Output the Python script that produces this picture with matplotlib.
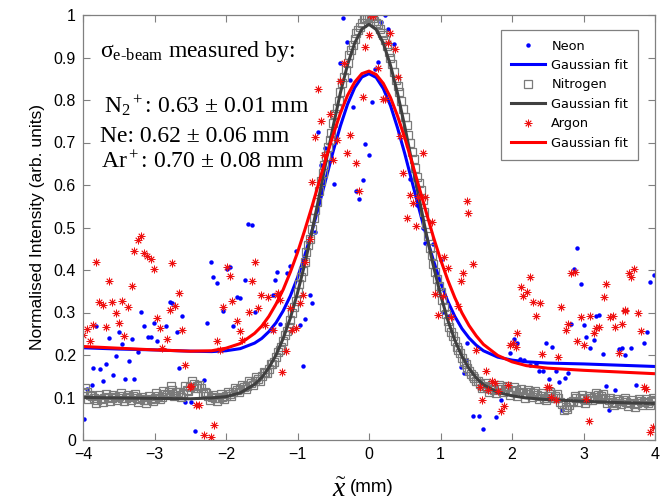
import numpy as np
import matplotlib
matplotlib.use('Agg')
import matplotlib.pyplot as plt

# ---- data ----
# Neon points (x in mm, normalised intensity)
neon_x = [-1.69, -1.64, -2.21, -1.95, -1.99, -2.18, -2.13, -1.73, -1.32, -1.28, -1.85, -1.81, -2.79, -2.76,
          -3.19, -2.61, -3.82, -3.15, -3.01, -2.84, -3.49, -2.69, -2.26, -2.04, -1.90, -1.60, -3.09, -3.05,
          -2.96, -3.63, -3.45, -3.32, -3.23, -3.54, -3.36, -3.68, -3.86, -3.76, -3.58, -3.72, -3.41, -3.28,
          -2.66, -2.31, -3.88, -3.94, -3.99, -2.57, -2.49, -2.43,
          -0.36, 0.22, 0.17, -0.31, 0.26, 0.35, -0.40, 0.12, 0.08, -0.27, 0.04, -0.23, -0.71, -0.62, -0.05, 0.00,
          -0.67, -0.49, -0.09, -0.18, -0.14, 0.57, 0.67, 0.75, -1.02, -0.76, -1.11, -1.15, 0.79, 0.89, 1.00,
          -1.34, -0.83, -0.80, -0.89, -0.97, -1.24, -1.34, -0.93, 1.04, 1.12, 1.28, 1.33, 1.36,
          2.91, 2.87, 2.96, 3.93, 3.98, 3.18, 3.22, 2.83, 3.01, 3.89, 3.04, 3.14, 3.85, 2.48, 2.56, 2.03,
          2.07, 1.97, 1.37, 3.09, 3.27, 3.50, 3.54, 3.66, 3.58, 2.11, 2.17, 2.25, 2.34, 2.38, 2.43, 2.62,
          2.78, 2.52, 2.74, 2.66, 3.31, 3.44, 3.74, 1.85, 2.70, 1.46, 1.54, 1.77, 1.59, 3.36]
neon_y = [0.508, 0.505, 0.420, 0.408, 0.403, 0.383, 0.369, 0.376, 0.376, 0.395, 0.336, 0.335, 0.324, 0.322,
          0.301, 0.292, 0.268, 0.268, 0.275, 0.268, 0.254, 0.254, 0.276, 0.304, 0.268, 0.301, 0.243, 0.242,
          0.234, 0.239, 0.226, 0.238, 0.207, 0.198, 0.185, 0.180, 0.169, 0.168, 0.152, 0.140, 0.143, 0.144,
          0.169, 0.141, 0.129, 0.119, 0.049, 0.089, 0.089, 0.022,
          0.993, 1.000, 0.984, 0.936, 0.966, 0.931, 0.886, 0.890, 0.872, 0.846, 0.796, 0.784, 0.725, 0.688, 0.696, 0.671,
          0.647, 0.602, 0.611, 0.585, 0.567, 0.613, 0.553, 0.500, 0.445, 0.490, 0.409, 0.394, 0.463, 0.461, 0.424,
          0.342, 0.342, 0.322, 0.285, 0.271, 0.273, 0.260, 0.174, 0.302, 0.292, 0.172, 0.158, 0.188,
          0.452, 0.403, 0.368, 0.372, 0.388, 0.292, 0.293, 0.274, 0.271, 0.254, 0.243, 0.235, 0.229, 0.229, 0.220, 0.237,
          0.228, 0.204, 0.228, 0.217, 0.202, 0.215, 0.217, 0.216, 0.199, 0.191, 0.188, 0.177, 0.179, 0.162, 0.162, 0.162,
          0.157, 0.144, 0.146, 0.136, 0.127, 0.118, 0.130, 0.093, 0.071, 0.056, 0.056, 0.053, 0.027, 0.071]

# Argon points
argon_x = [-3.82, -3.23, -3.19, -3.29, -3.15, -3.10, -3.05, -3.01, -3.63, -3.32, -2.75, -2.66, -1.99, -1.94,
           -1.60, -1.64, -1.51, -1.41, -1.29, -3.77, -3.72, -3.59, -3.45, -3.37, -2.71, -2.04, -1.91, -1.55,
           -3.54, -2.79, -1.68, -3.49, -2.96, -2.92, -3.94, -3.86, -3.68, -2.62, -1.85, -1.80, -1.46, -4.00,
           -3.90, -3.42, -2.83, -2.89, -2.13, -2.08, -1.77, -2.57, -2.51, -2.49, -2.42, -2.38, -2.17, -2.31, -2.21,
           0.01, 0.06, 0.29, 0.00, 0.26, 0.36, -0.05, -0.35, 0.13, -0.41, -0.71, 0.40, -0.09, 0.19, 0.22,
           -0.54, -0.67, -0.76, -0.27, 0.43, -0.45, -0.63, -0.31, 0.75,
           -0.50, -0.18, -0.80, -0.14, 0.48, 0.57, 0.69, 0.79, 0.62, 0.53, 0.66, 0.88, 1.37, 1.39, -0.83, -0.89,
           1.05, 1.11, 1.32, 1.28, -1.27, -0.93, -0.97, 0.92, 1.03, 1.25,
           -1.10, -1.24, -1.34, -1.07, -1.02, -1.16, -1.21, 0.97, 1.14,
           1.45, 2.25, 2.12, 2.21, 2.16, 2.30, 2.39, 2.69, 2.83, 2.88, 3.31, 3.28, 3.63, 3.67, 3.71, 3.58,
           2.34, 2.96, 3.09, 3.37, 3.41, 3.58, 3.76, 2.79, 2.75, 3.18, 3.22, 3.44, 3.54, 3.14, 3.81, 2.07,
           2.02, 1.97, 2.05, 2.91, 3.01, 3.49, 1.50, 2.42, 2.65, 1.64, 1.72, 1.76, 1.55, 1.67, 1.80, 1.94,
           2.49, 2.52, 2.55, 2.62, 3.85, 3.88, 3.04, 1.58, 1.89, 1.85, 3.08, 3.97, 3.93]
argon_y = [0.418, 0.471, 0.480, 0.445, 0.439, 0.433, 0.426, 0.402, 0.373, 0.362, 0.416, 0.345, 0.408, 0.387,
           0.420, 0.373, 0.341, 0.337, 0.341, 0.325, 0.317, 0.325, 0.328, 0.314, 0.315, 0.314, 0.328, 0.310,
           0.298, 0.306, 0.301, 0.276, 0.286, 0.264, 0.262, 0.270, 0.265, 0.259, 0.281, 0.257, 0.270, 0.246,
           0.234, 0.245, 0.237, 0.217, 0.232, 0.212, 0.235, 0.177, 0.124, 0.127, 0.082, 0.083, 0.035, 0.011, 0.006,
           1.000, 0.998, 0.958, 0.954, 0.933, 0.919, 0.924, 0.886, 0.875, 0.845, 0.825, 0.853, 0.806, 0.802, 0.802,
           0.766, 0.751, 0.714, 0.718, 0.715, 0.706, 0.670, 0.676, 0.676,
           0.659, 0.652, 0.606, 0.585, 0.629, 0.576, 0.572, 0.571, 0.557, 0.522, 0.504, 0.514, 0.563, 0.533, 0.472, 0.420,
           0.430, 0.404, 0.392, 0.373, 0.345, 0.341, 0.322, 0.344, 0.339, 0.315,
           0.311, 0.329, 0.259, 0.260, 0.264, 0.210, 0.160, 0.293, 0.289,
           0.414, 0.384, 0.361, 0.349, 0.340, 0.325, 0.322, 0.314, 0.394, 0.396, 0.367, 0.336, 0.392, 0.383, 0.402, 0.306,
           0.292, 0.290, 0.292, 0.290, 0.292, 0.304, 0.298, 0.273, 0.259, 0.264, 0.265, 0.265, 0.274, 0.251, 0.256, 0.252,
           0.228, 0.223, 0.220, 0.234, 0.224, 0.205, 0.212, 0.202, 0.195, 0.162, 0.138, 0.135, 0.125, 0.118, 0.115, 0.130,
           0.124, 0.124, 0.102, 0.094, 0.124, 0.121, 0.097, 0.094, 0.080, 0.068, 0.044, 0.030, 0.020]

# Nitrogen scan, sampled every 0.05 mm from -4 to 4
nitrogen_y = [0.110, 0.112, 0.105, 0.098, 0.094, 0.097, 0.100, 0.102, 0.099, 0.101,
              0.104, 0.100, 0.098, 0.101, 0.103, 0.099, 0.096, 0.093, 0.095, 0.097,
              0.100, 0.104, 0.101, 0.108, 0.114, 0.118, 0.112, 0.106, 0.110, 0.117,
              0.124, 0.131, 0.128, 0.122, 0.113, 0.104, 0.101, 0.099, 0.100, 0.102,
              0.104, 0.108, 0.113, 0.118, 0.121, 0.124, 0.128, 0.134, 0.138, 0.143,
              0.150, 0.158, 0.168, 0.180, 0.195, 0.212, 0.232, 0.256, 0.282, 0.312,
              0.348, 0.383, 0.418, 0.458, 0.497, 0.540, 0.585, 0.628, 0.668, 0.706,
              0.745, 0.782, 0.818, 0.855, 0.888, 0.918, 0.944, 0.965, 0.982, 0.993,
              0.998,
              0.992, 0.982, 0.968, 0.952, 0.928, 0.898, 0.866, 0.832, 0.798, 0.760,
              0.718, 0.678, 0.640, 0.605, 0.565, 0.508, 0.452, 0.415, 0.380, 0.348,
              0.312, 0.280, 0.255, 0.232, 0.212, 0.192, 0.178, 0.162, 0.150, 0.138,
              0.131, 0.127, 0.124, 0.121, 0.118, 0.120, 0.124, 0.121, 0.117, 0.115,
              0.118, 0.114, 0.110, 0.108, 0.112, 0.110, 0.106, 0.103, 0.100, 0.104,
              0.108, 0.104, 0.098, 0.085, 0.078, 0.082, 0.092, 0.098, 0.100, 0.096,
              0.094, 0.098, 0.102, 0.105, 0.104, 0.099, 0.094, 0.090, 0.088, 0.091,
              0.094, 0.090, 0.086, 0.084, 0.088, 0.091, 0.089, 0.087, 0.092, 0.094]
nitrogen_x = np.linspace(-4, 4, len(nitrogen_y))
# in-between samples of the same scan (-3.975 ... 3.975)
nitrogen_y2 = [0.122, 0.096, 0.104, 0.088, 0.105, 0.090, 0.108, 0.092, 0.106, 0.094,
               0.110, 0.092, 0.106, 0.095, 0.108, 0.090, 0.102, 0.086, 0.104, 0.092,
               0.110, 0.096, 0.116, 0.106, 0.126, 0.104, 0.114, 0.102, 0.126, 0.116,
               0.138, 0.122, 0.130, 0.108, 0.110, 0.094, 0.106, 0.092, 0.108, 0.096,
               0.112, 0.104, 0.122, 0.112, 0.130, 0.120, 0.138, 0.130, 0.148, 0.140,
               0.160, 0.158, 0.178, 0.184, 0.208, 0.218, 0.246, 0.266, 0.300, 0.326,
               0.368, 0.398, 0.442, 0.474, 0.522, 0.560, 0.610, 0.646, 0.690, 0.722,
               0.768, 0.798, 0.840, 0.870, 0.906, 0.930, 0.958, 0.972, 0.990, 0.996,
               0.998, 0.986, 0.978, 0.958, 0.942, 0.912, 0.884, 0.848, 0.818, 0.778,
               0.742, 0.698, 0.662, 0.620, 0.588, 0.536, 0.480, 0.436, 0.396, 0.362,
               0.330, 0.296, 0.266, 0.244, 0.220, 0.204, 0.184, 0.170, 0.156, 0.146,
               0.140, 0.122, 0.134, 0.114, 0.130, 0.110, 0.130, 0.112, 0.128, 0.106,
               0.124, 0.104, 0.120, 0.100, 0.118, 0.102, 0.116, 0.096, 0.110, 0.094,
               0.114, 0.098, 0.108, 0.090, 0.070, 0.074, 0.090, 0.104, 0.090, 0.106,
               0.088, 0.104, 0.094, 0.110, 0.096, 0.108, 0.088, 0.100, 0.082, 0.096,
               0.084, 0.098, 0.080, 0.094, 0.078, 0.096, 0.082, 0.096, 0.082, 0.098]
nitrogen_x2 = np.linspace(-3.975, 3.975, len(nitrogen_y2))

# Gaussian fit curves
fit_x = [-4.0, -3.5, -3.0, -2.5, -2.2, -2.0, -1.8, -1.6, -1.5, -1.4, -1.3, -1.2, -1.1, -1.0,
         -0.9, -0.8, -0.7, -0.6, -0.5, -0.4, -0.3, -0.2, -0.1, 0.0, 0.1, 0.2, 0.3, 0.4, 0.5,
         0.6, 0.7, 0.8, 0.9, 1.0, 1.1, 1.2, 1.3, 1.4, 1.5, 1.6, 1.8, 2.0, 2.2, 2.5, 3.0, 3.5, 4.0]
fit_neon = [0.217, 0.214, 0.212, 0.209, 0.208, 0.210, 0.215, 0.228, 0.239, 0.255, 0.276, 0.304, 0.339, 0.382,
            0.433, 0.490, 0.552, 0.616, 0.680, 0.739, 0.790, 0.829, 0.854, 0.862, 0.853, 0.827, 0.787, 0.734, 0.674,
            0.609, 0.544, 0.481, 0.423, 0.371, 0.327, 0.291, 0.262, 0.240, 0.223, 0.210, 0.195, 0.188, 0.184,
            0.181, 0.179, 0.176, 0.173]
fit_nitrogen = [0.100, 0.099, 0.098, 0.097, 0.099, 0.102, 0.111, 0.131, 0.147, 0.170, 0.200, 0.239, 0.287, 0.346,
                0.413, 0.489, 0.571, 0.656, 0.739, 0.817, 0.883, 0.934, 0.967, 0.978, 0.966, 0.934, 0.882, 0.815,
                0.738, 0.654, 0.569, 0.486, 0.410, 0.342, 0.283, 0.235, 0.197, 0.168, 0.146, 0.130, 0.112, 0.104,
                0.099, 0.095, 0.091, 0.088, 0.086]
fit_argon = [0.220, 0.216, 0.212, 0.209, 0.210, 0.216, 0.227, 0.251, 0.268, 0.291, 0.320, 0.354, 0.395, 0.441,
             0.493, 0.548, 0.606, 0.664, 0.719, 0.769, 0.811, 0.842, 0.862, 0.868, 0.860, 0.839, 0.806, 0.762,
             0.711, 0.654, 0.595, 0.536, 0.478, 0.425, 0.377, 0.335, 0.299, 0.269, 0.245, 0.225, 0.199, 0.184,
             0.175, 0.169, 0.164, 0.160, 0.156]

xticks = [-4, -3, -2, -1, 0, 1, 2, 3, 4]
yticks = [0, 0.1, 0.2, 0.3, 0.4, 0.5, 0.6, 0.7, 0.8, 0.9, 1]
ytick_labels = ['0', '0.1', '0.2', '0.3', '0.4', '0.5', '0.6', '0.7', '0.8', '0.9', '1']

plt.rcParams['font.family'] = ['Liberation Sans', 'DejaVu Sans']
plt.rcParams['mathtext.fontset'] = 'custom'
plt.rcParams['mathtext.rm'] = 'Liberation Serif'
plt.rcParams['mathtext.it'] = 'Liberation Serif:italic'

fig = plt.figure(figsize=(6.67, 5.03), dpi=100)
ax = fig.add_axes([83/667, 63/503, 572/667, 425/503])

asterisk = (8, 2, 0)
sq_color = '#7a7a7a'
ax.plot(neon_x, neon_y, 'o', color='#0000ff', markersize=3.2, markeredgewidth=0, label='Neon')
ax.plot(fit_x, fit_neon, '-', color='#0000ff', lw=2.2, label='Gaussian fit')
ax.plot(nitrogen_x, nitrogen_y, 's', mfc='none', mec=sq_color, markersize=5.5, markeredgewidth=0.9,
        label='Nitrogen')
ax.plot(nitrogen_x2, nitrogen_y2, 's', mfc='none', mec=sq_color, markersize=5.5, markeredgewidth=0.9)
ax.plot(fit_x, fit_nitrogen, '-', color='#404040', lw=2.2, label='Gaussian fit')
ax.plot(argon_x, argon_y, ls='none', marker=asterisk, color='#ee1111', markersize=5.5, markeredgewidth=0.6,
        label='Argon')
ax.plot(fit_x, fit_argon, '-', color='#ff0000', lw=2.2, label='Gaussian fit')

ax.set_xlim(-4, 4)
ax.set_ylim(0, 1)
ax.set_xticks(xticks)
ax.set_yticks(yticks)
ax.set_yticklabels(ytick_labels)
ax.tick_params(direction='in', length=5, width=0.8, color='#808080', labelsize=11.5,
               top=True, right=True, pad=5)
for s in ax.spines.values():
    s.set_color('#808080')
    s.set_linewidth(0.9)

ax.set_ylabel('Normalised Intensity (arb. units)', fontsize=12.5, labelpad=6)
fig.text(346/667, 1 - 490/503, r'$\tilde{x}$', fontsize=20, ha='right', va='center')
fig.text(350/667, 1 - 487/503, '(mm)', fontsize=13.5, ha='left', va='center')

leg = ax.legend(loc='upper right', bbox_to_anchor=(0.970, 0.965), borderaxespad=0,
                fancybox=False, edgecolor='#808080', framealpha=1,
                prop={'family': 'DejaVu Sans', 'size': 9.3},
                handlelength=2.7, labelspacing=0.5, handletextpad=0.45, borderpad=0.75)
leg.get_frame().set_linewidth(0.9)

serif = 'Liberation Serif'
ax.text(0.030, 0.902, r'σ$_{\mathrm{e\text{-}beam}}$ measured by:', transform=ax.transAxes,
        family=serif, fontsize=17, va='baseline')
ax.text(0.036, 0.769, r'N$_2$$^+$: 0.63 ± 0.01 mm', transform=ax.transAxes, family=serif, fontsize=17,
        va='baseline')
ax.text(0.030, 0.702, 'Ne: 0.62 ± 0.06 mm', transform=ax.transAxes, family=serif, fontsize=17,
        va='baseline')
ax.text(0.032, 0.639, r'Ar$^+$: 0.70 ± 0.08 mm', transform=ax.transAxes, family=serif, fontsize=17,
        va='baseline')

plt.savefig('out.png', dpi=100)
